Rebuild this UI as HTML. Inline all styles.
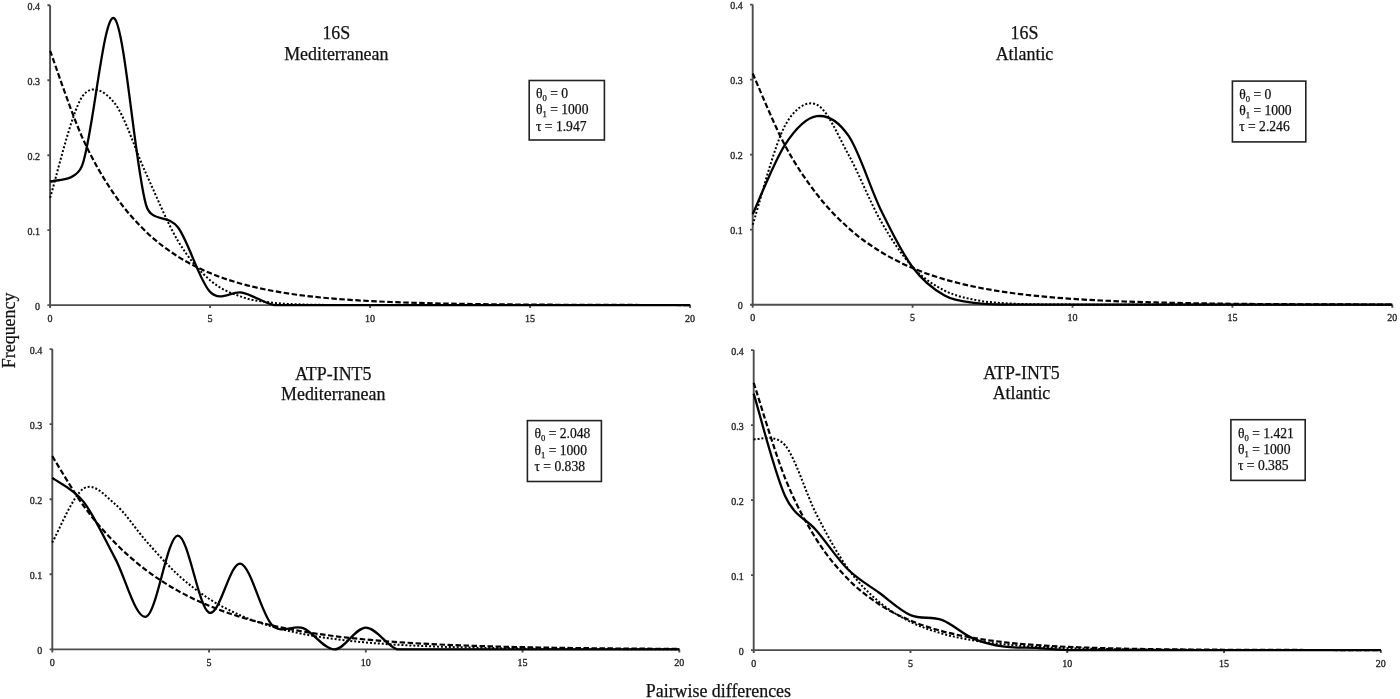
<!DOCTYPE html>
<html><head><meta charset="utf-8"><style>
html,body{margin:0;padding:0;background:#fff;}
body{width:1400px;height:699px;overflow:hidden;}
svg{display:block;will-change:transform;}
text{font-family:"Liberation Serif",serif;fill:#000;}
.yl{font-size:10px;text-anchor:end;fill:#2a2a2a;stroke:#2a2a2a;stroke-width:0.35px;}
.xl{font-size:10px;text-anchor:middle;fill:#2a2a2a;stroke:#2a2a2a;stroke-width:0.35px;}
.tt{font-size:17.9px;text-anchor:middle;fill:#111;stroke:#111;stroke-width:0.25px;}
.at{font-size:17.9px;text-anchor:middle;fill:#111;stroke:#111;stroke-width:0.25px;}
.bt{font-size:13.6px;fill:#111;stroke:#111;stroke-width:0.25px;}
.sub{font-size:8.6px;}
.sol{fill:none;stroke:#000;stroke-width:2.3;stroke-linejoin:round;}
.dash{fill:none;stroke:#000;stroke-width:2.2;stroke-dasharray:5.5 2.5;}
.dot{fill:none;stroke:#000;stroke-width:2.0;stroke-dasharray:2 1.95;}
</style></head><body>
<svg width="1400" height="699" viewBox="0 0 1400 699">
<rect width="1400" height="699" fill="#fff"/>
<path d="M50.10,5.30 V305.10 H690.10" fill="none" stroke="#4d4d4d" stroke-width="1.9"/>
<path d="M47.40,305.10H50.10M47.40,230.15H50.10M47.40,155.20H50.10M47.40,80.25H50.10M47.40,5.30H50.10M50.10,305.10V308.10M210.10,305.10V308.10M370.10,305.10V308.10M530.10,305.10V308.10M690.10,305.10V308.10" fill="none" stroke="#4d4d4d" stroke-width="1.9"/>
<text x="40.10" y="309.70" class="yl">0</text>
<text x="40.10" y="234.75" class="yl">0.1</text>
<text x="40.10" y="159.80" class="yl">0.2</text>
<text x="40.10" y="84.85" class="yl">0.3</text>
<text x="40.10" y="9.90" class="yl">0.4</text>
<text x="50.10" y="321.60" class="xl">0</text>
<text x="210.10" y="321.60" class="xl">5</text>
<text x="370.10" y="321.60" class="xl">10</text>
<text x="530.10" y="321.60" class="xl">15</text>
<text x="690.10" y="321.60" class="xl">20</text>
<path d="M50.10,197.71 C55.43,180.90 71.43,112.69 82.10,96.83 C91.17,83.34 103.70,90.05 114.10,102.54 C124.77,115.35 135.43,150.59 146.10,173.69 C156.77,196.79 167.43,223.40 178.10,241.15 C188.77,258.90 199.43,270.89 210.10,280.20 C220.77,289.51 231.43,293.25 242.10,297.02 C252.77,300.80 263.43,301.60 274.10,302.85 C284.77,304.11 295.43,304.20 306.10,304.55 C316.77,304.91 327.43,304.89 338.10,304.98 C348.77,305.07 359.43,305.06 370.10,305.08 C380.77,305.10 391.43,305.09 402.10,305.10 C412.77,305.10 423.43,305.10 434.10,305.10 C444.77,305.10 455.43,305.10 466.10,305.10 C476.77,305.10 487.43,305.10 498.10,305.10 C508.77,305.10 519.43,305.10 530.10,305.10 C540.77,305.10 551.43,305.10 562.10,305.10 C572.77,305.10 583.43,305.10 594.10,305.10 C604.77,305.10 615.43,305.10 626.10,305.10 C636.77,305.10 647.43,305.10 658.10,305.10 C668.77,305.10 684.77,305.10 690.10,305.10" class="dot"/>
<path d="M50.10,50.77 C55.43,65.16 71.43,113.19 82.10,137.07 C92.77,160.96 103.43,178.31 114.10,194.09 C124.77,209.87 135.43,221.33 146.10,231.76 C156.77,242.18 167.43,249.76 178.10,256.65 C188.77,263.53 199.43,268.54 210.10,273.09 C220.77,277.64 231.43,280.94 242.10,283.95 C252.77,286.96 263.43,289.14 274.10,291.13 C284.77,293.11 295.43,294.56 306.10,295.87 C316.77,297.18 327.43,298.13 338.10,299.00 C348.77,299.87 359.43,300.50 370.10,301.07 C380.77,301.64 391.43,302.06 402.10,302.44 C412.77,302.82 423.43,303.09 434.10,303.34 C444.77,303.59 455.43,303.77 466.10,303.94 C476.77,304.10 487.43,304.22 498.10,304.33 C508.77,304.44 519.43,304.52 530.10,304.59 C540.77,304.66 551.43,304.72 562.10,304.76 C572.77,304.81 583.43,304.85 594.10,304.88 C604.77,304.91 615.43,304.93 626.10,304.95 C636.77,304.97 647.43,304.99 658.10,305.00 C668.77,305.02 684.77,305.03 690.10,305.04" class="dash"/>
<path d="M50.10,181.88 C55.43,179.18 75.57,182.39 82.10,165.69 C92.77,138.41 103.43,11.63 114.10,18.19 C124.77,24.75 135.43,170.15 146.10,205.04 C151.82,223.74 167.43,213.05 178.10,227.53 C188.77,242.00 199.43,281.07 210.10,291.91 C220.77,302.75 231.43,290.38 242.10,292.58 C252.77,294.78 263.43,303.01 274.10,305.10 C284.77,305.10 295.43,305.10 306.10,305.10 C316.77,305.10 327.43,305.10 338.10,305.10 C348.77,305.10 359.43,305.10 370.10,305.10 C380.77,305.10 391.43,305.10 402.10,305.10 C412.77,305.10 423.43,305.10 434.10,305.10 C444.77,305.10 455.43,305.10 466.10,305.10 C476.77,305.10 487.43,305.10 498.10,305.10 C508.77,305.10 519.43,305.10 530.10,305.10 C540.77,305.10 551.43,305.10 562.10,305.10 C572.77,305.10 583.43,305.10 594.10,305.10 C604.77,305.10 615.43,305.10 626.10,305.10 C636.77,305.10 647.43,305.10 658.10,305.10 C668.77,305.10 684.77,305.10 690.10,305.10" class="sol"/>
<text x="336.30" y="38.80" class="tt">16S</text>
<text x="336.30" y="59.70" class="tt">Mediterranean</text>
<rect x="529.20" y="80.50" width="75.20" height="59.50" fill="#fff" stroke="#222" stroke-width="1.6"/>
<text x="536.00" y="98.00" class="bt">&#952;<tspan class="sub" dy="3.0">0</tspan><tspan dy="-3.0"> = 0</tspan></text>
<text x="536.00" y="114.30" class="bt">&#952;<tspan class="sub" dy="3.0">1</tspan><tspan dy="-3.0"> = 1000</tspan></text>
<text x="536.00" y="130.60" class="bt">&#964; = 1.947</text>
<path d="M752.70,4.58 V304.70 H1392.30" fill="none" stroke="#4d4d4d" stroke-width="1.9"/>
<path d="M750.00,304.70H752.70M750.00,229.67H752.70M750.00,154.64H752.70M750.00,79.61H752.70M750.00,4.58H752.70M752.70,304.70V307.70M912.60,304.70V307.70M1072.50,304.70V307.70M1232.40,304.70V307.70M1392.30,304.70V307.70" fill="none" stroke="#4d4d4d" stroke-width="1.9"/>
<text x="742.70" y="309.30" class="yl">0</text>
<text x="742.70" y="234.27" class="yl">0.1</text>
<text x="742.70" y="159.24" class="yl">0.2</text>
<text x="742.70" y="84.21" class="yl">0.3</text>
<text x="742.70" y="9.18" class="yl">0.4</text>
<text x="752.70" y="321.20" class="xl">0</text>
<text x="912.60" y="321.20" class="xl">5</text>
<text x="1072.50" y="321.20" class="xl">10</text>
<text x="1232.40" y="321.20" class="xl">15</text>
<text x="1392.30" y="321.20" class="xl">20</text>
<path d="M752.70,224.81 C758.03,208.39 774.02,146.32 784.68,126.28 C793.75,109.22 806.00,99.81 816.66,104.60 C827.32,109.38 837.98,135.62 848.64,154.96 C859.30,174.31 869.96,201.98 880.62,220.65 C891.28,239.31 901.94,255.29 912.60,266.95 C923.26,278.60 933.92,285.03 944.58,290.57 C955.24,296.11 965.90,298.02 976.56,300.17 C987.22,302.31 997.88,302.72 1008.54,303.43 C1019.20,304.13 1029.86,304.18 1040.52,304.38 C1051.18,304.58 1061.84,304.58 1072.50,304.63 C1083.16,304.68 1093.82,304.67 1104.48,304.69 C1115.14,304.70 1125.80,304.69 1136.46,304.70 C1147.12,304.70 1157.78,304.70 1168.44,304.70 C1179.10,304.70 1189.76,304.70 1200.42,304.70 C1211.08,304.70 1221.74,304.70 1232.40,304.70 C1243.06,304.70 1253.72,304.70 1264.38,304.70 C1275.04,304.70 1285.70,304.70 1296.36,304.70 C1307.02,304.70 1317.68,304.70 1328.34,304.70 C1339.00,304.70 1349.66,304.70 1360.32,304.70 C1370.98,304.70 1386.97,304.70 1392.30,304.70" class="dot"/>
<path d="M752.70,73.55 C758.03,85.42 774.02,124.68 784.68,144.76 C795.34,164.84 806.00,180.14 816.66,194.04 C827.32,207.93 837.98,218.51 848.64,228.13 C859.30,237.74 869.96,245.07 880.62,251.72 C891.28,258.37 901.94,263.44 912.60,268.04 C923.26,272.64 933.92,276.15 944.58,279.33 C955.24,282.52 965.90,284.94 976.56,287.15 C987.22,289.35 997.88,291.03 1008.54,292.56 C1019.20,294.08 1029.86,295.24 1040.52,296.30 C1051.18,297.35 1061.84,298.16 1072.50,298.89 C1083.16,299.62 1093.82,300.17 1104.48,300.68 C1115.14,301.18 1125.80,301.57 1136.46,301.92 C1147.12,302.27 1157.78,302.53 1168.44,302.77 C1179.10,303.02 1189.76,303.20 1200.42,303.37 C1211.08,303.53 1221.74,303.66 1232.40,303.78 C1243.06,303.89 1253.72,303.98 1264.38,304.06 C1275.04,304.14 1285.70,304.20 1296.36,304.26 C1307.02,304.31 1317.68,304.36 1328.34,304.39 C1339.00,304.43 1349.66,304.46 1360.32,304.49 C1370.98,304.52 1386.97,304.54 1392.30,304.55" class="dash"/>
<path d="M752.70,214.29 C758.03,202.78 774.02,161.61 784.68,145.26 C795.34,128.92 806.00,117.78 816.66,116.22 C827.32,114.67 838.01,120.47 848.64,135.96 C859.30,151.49 869.96,187.54 880.62,209.41 C891.28,231.28 901.94,252.84 912.60,267.19 C923.26,281.53 933.92,289.47 944.58,295.47 C955.24,301.47 965.90,301.66 976.56,303.20 C987.22,304.70 997.88,304.45 1008.54,304.70 C1019.20,304.70 1029.86,304.70 1040.52,304.70 C1051.18,304.70 1061.84,304.70 1072.50,304.70 C1083.16,304.70 1093.82,304.70 1104.48,304.70 C1115.14,304.70 1125.80,304.70 1136.46,304.70 C1147.12,304.70 1157.78,304.70 1168.44,304.70 C1179.10,304.70 1189.76,304.70 1200.42,304.70 C1211.08,304.70 1221.74,304.70 1232.40,304.70 C1243.06,304.70 1253.72,304.70 1264.38,304.70 C1275.04,304.70 1285.70,304.70 1296.36,304.70 C1307.02,304.70 1317.68,304.70 1328.34,304.70 C1339.00,304.70 1349.66,304.70 1360.32,304.70 C1370.98,304.70 1386.97,304.70 1392.30,304.70" class="sol"/>
<text x="1024.50" y="38.80" class="tt">16S</text>
<text x="1024.50" y="59.70" class="tt">Atlantic</text>
<rect x="1232.40" y="81.10" width="73.40" height="60.80" fill="#fff" stroke="#222" stroke-width="1.6"/>
<text x="1239.20" y="98.60" class="bt">&#952;<tspan class="sub" dy="3.0">0</tspan><tspan dy="-3.0"> = 0</tspan></text>
<text x="1239.20" y="114.90" class="bt">&#952;<tspan class="sub" dy="3.0">1</tspan><tspan dy="-3.0"> = 1000</tspan></text>
<text x="1239.20" y="131.20" class="bt">&#964; = 2.246</text>
<path d="M52.30,349.10 V649.40 H679.30" fill="none" stroke="#4d4d4d" stroke-width="1.9"/>
<path d="M49.60,649.40H52.30M49.60,574.32H52.30M49.60,499.25H52.30M49.60,424.17H52.30M49.60,349.10H52.30M52.30,649.40V652.40M209.05,649.40V652.40M365.80,649.40V652.40M522.55,649.40V652.40M679.30,649.40V652.40" fill="none" stroke="#4d4d4d" stroke-width="1.9"/>
<text x="42.30" y="654.00" class="yl">0</text>
<text x="42.30" y="578.92" class="yl">0.1</text>
<text x="42.30" y="503.85" class="yl">0.2</text>
<text x="42.30" y="428.77" class="yl">0.3</text>
<text x="42.30" y="353.70" class="yl">0.4</text>
<text x="52.30" y="665.90" class="xl">0</text>
<text x="209.05" y="665.90" class="xl">5</text>
<text x="365.80" y="665.90" class="xl">10</text>
<text x="522.55" y="665.90" class="xl">15</text>
<text x="679.30" y="665.90" class="xl">20</text>
<path d="M52.30,542.52 C57.52,533.51 73.20,494.93 83.65,488.50 C94.10,482.08 104.55,495.18 115.00,503.98 C125.45,512.77 135.90,529.50 146.35,541.26 C156.80,553.03 167.25,564.98 177.70,574.56 C188.15,584.14 198.60,591.95 209.05,598.75 C219.50,605.54 229.95,610.69 240.40,615.31 C250.85,619.94 261.30,623.38 271.75,626.49 C282.20,629.61 292.65,631.91 303.10,634.01 C313.55,636.10 324.00,637.65 334.45,639.06 C344.90,640.46 355.35,641.50 365.80,642.45 C376.25,643.40 386.70,644.09 397.15,644.73 C407.60,645.37 418.05,645.84 428.50,646.26 C438.95,646.69 449.40,647.00 459.85,647.29 C470.30,647.58 480.75,647.79 491.20,647.98 C501.65,648.18 512.10,648.32 522.55,648.45 C533.00,648.58 543.45,648.67 553.90,648.76 C564.35,648.85 574.80,648.91 585.25,648.97 C595.70,649.03 606.15,649.07 616.60,649.11 C627.05,649.15 637.50,649.18 647.95,649.21 C658.40,649.23 674.07,649.26 679.30,649.27" class="dot"/>
<path d="M52.30,456.21 C57.52,464.49 73.20,491.48 83.65,505.92 C94.10,520.36 104.55,532.12 115.00,542.84 C125.45,553.57 135.90,562.30 146.35,570.26 C156.80,578.23 167.25,584.71 177.70,590.63 C188.15,596.54 198.60,601.36 209.05,605.75 C219.50,610.15 229.95,613.72 240.40,616.98 C250.85,620.25 261.30,622.90 271.75,625.33 C282.20,627.75 292.65,629.72 303.10,631.52 C313.55,633.32 324.00,634.79 334.45,636.12 C344.90,637.46 355.35,638.55 365.80,639.54 C376.25,640.53 386.70,641.34 397.15,642.08 C407.60,642.81 418.05,643.41 428.50,643.96 C438.95,644.51 449.40,644.95 459.85,645.36 C470.30,645.77 480.75,646.10 491.20,646.40 C501.65,646.70 512.10,646.95 522.55,647.17 C533.00,647.40 543.45,647.58 553.90,647.75 C564.35,647.91 574.80,648.05 585.25,648.17 C595.70,648.29 606.15,648.40 616.60,648.49 C627.05,648.58 637.50,648.65 647.95,648.72 C658.40,648.79 674.07,648.87 679.30,648.90" class="dash"/>
<path d="M52.30,477.93 C57.52,481.92 73.20,488.51 83.65,501.88 C94.10,515.24 104.55,538.98 115.00,558.11 C125.45,577.24 135.90,620.42 146.35,616.67 C156.80,612.91 167.25,536.26 177.70,535.59 C188.15,534.91 198.60,607.95 209.05,612.61 C219.50,617.28 229.95,561.57 240.40,563.59 C250.85,565.60 261.30,613.95 271.75,624.70 C282.20,635.45 292.65,623.96 303.10,628.08 C313.55,632.20 324.00,649.40 334.45,649.40 C344.90,649.32 355.35,627.63 365.80,627.63 C376.25,627.63 386.70,645.77 397.15,649.40 C407.60,649.40 418.05,649.40 428.50,649.40 C438.95,649.40 449.40,649.40 459.85,649.40 C470.30,649.40 480.75,649.40 491.20,649.40 C501.65,649.40 512.10,649.40 522.55,649.40 C533.00,649.40 543.45,649.40 553.90,649.40 C564.35,649.40 574.80,649.40 585.25,649.40 C595.70,649.40 606.15,649.40 616.60,649.40 C627.05,649.40 637.50,649.40 647.95,649.40 C658.40,649.40 674.07,649.40 679.30,649.40" class="sol"/>
<text x="333.20" y="379.60" class="tt">ATP-INT5</text>
<text x="333.20" y="400.40" class="tt">Mediterranean</text>
<rect x="527.40" y="420.60" width="74.00" height="60.90" fill="#fff" stroke="#222" stroke-width="1.6"/>
<text x="534.50" y="438.40" class="bt">&#952;<tspan class="sub" dy="3.0">0</tspan><tspan dy="-3.0"> = 2.048</tspan></text>
<text x="534.50" y="454.70" class="bt">&#952;<tspan class="sub" dy="3.0">1</tspan><tspan dy="-3.0"> = 1000</tspan></text>
<text x="534.50" y="471.00" class="bt">&#964; = 0.838</text>
<path d="M753.70,350.10 V650.10 H1380.80" fill="none" stroke="#4d4d4d" stroke-width="1.9"/>
<path d="M751.00,650.10H753.70M751.00,575.10H753.70M751.00,500.10H753.70M751.00,425.10H753.70M751.00,350.10H753.70M753.70,650.10V653.10M910.48,650.10V653.10M1067.25,650.10V653.10M1224.03,650.10V653.10M1380.80,650.10V653.10" fill="none" stroke="#4d4d4d" stroke-width="1.9"/>
<text x="743.70" y="654.70" class="yl">0</text>
<text x="743.70" y="579.70" class="yl">0.1</text>
<text x="743.70" y="504.70" class="yl">0.2</text>
<text x="743.70" y="429.70" class="yl">0.3</text>
<text x="743.70" y="354.70" class="yl">0.4</text>
<text x="753.70" y="666.60" class="xl">0</text>
<text x="910.48" y="666.60" class="xl">5</text>
<text x="1067.25" y="666.60" class="xl">10</text>
<text x="1224.03" y="666.60" class="xl">15</text>
<text x="1380.80" y="666.60" class="xl">20</text>
<path d="M753.70,439.15 C758.93,440.16 774.82,432.99 785.06,445.25 C795.51,457.77 805.96,493.75 816.41,514.27 C826.86,534.79 837.31,553.76 847.77,568.37 C858.22,582.98 868.67,593.03 879.12,601.94 C889.57,610.84 900.02,616.56 910.48,621.82 C920.93,627.08 931.38,630.41 941.83,633.50 C952.28,636.59 962.73,638.54 973.19,640.36 C983.64,642.17 994.09,643.32 1004.54,644.38 C1014.99,645.45 1025.44,646.12 1035.89,646.74 C1046.35,647.37 1056.80,647.76 1067.25,648.13 C1077.70,648.50 1088.15,648.73 1098.61,648.94 C1109.06,649.16 1119.51,649.29 1129.96,649.42 C1140.41,649.55 1150.86,649.63 1161.32,649.70 C1171.77,649.78 1182.22,649.82 1192.67,649.87 C1203.12,649.91 1213.57,649.94 1224.03,649.96 C1234.48,649.99 1244.93,650.00 1255.38,650.02 C1265.83,650.03 1276.28,650.04 1286.74,650.05 C1297.19,650.06 1307.64,650.07 1318.09,650.07 C1328.54,650.08 1338.99,650.08 1349.45,650.08 C1359.90,650.09 1375.57,650.09 1380.80,650.09" class="dot"/>
<path d="M753.70,382.82 C758.93,398.69 774.60,451.98 785.06,478.07 C795.51,504.16 805.96,522.58 816.41,539.38 C826.86,556.17 837.31,568.03 847.77,578.84 C858.22,589.65 868.67,597.28 879.12,604.23 C889.57,611.19 900.02,616.10 910.48,620.58 C920.93,625.06 931.38,628.22 941.83,631.10 C952.28,633.98 962.73,636.02 973.19,637.87 C983.64,639.73 994.09,641.04 1004.54,642.23 C1014.99,643.42 1025.44,644.27 1035.89,645.03 C1046.35,645.80 1056.80,646.35 1067.25,646.84 C1077.70,647.33 1088.15,647.68 1098.61,648.00 C1109.06,648.32 1119.51,648.54 1129.96,648.75 C1140.41,648.95 1150.86,649.10 1161.32,649.23 C1171.77,649.36 1182.22,649.46 1192.67,649.54 C1203.12,649.63 1213.57,649.69 1224.03,649.74 C1234.48,649.79 1244.93,649.83 1255.38,649.87 C1265.83,649.90 1276.28,649.93 1286.74,649.95 C1297.19,649.97 1307.64,649.99 1318.09,650.00 C1328.54,650.02 1338.99,650.03 1349.45,650.04 C1359.90,650.05 1375.57,650.06 1380.80,650.06" class="dash"/>
<path d="M753.70,393.60 C758.93,410.65 774.60,473.09 785.06,495.90 C794.78,517.12 805.96,518.25 816.41,530.48 C826.86,542.70 837.31,558.88 847.77,569.25 C858.22,579.62 868.67,585.09 879.12,592.73 C889.57,600.36 900.02,610.54 910.48,615.08 C920.93,619.61 931.38,616.03 941.83,619.95 C952.28,623.88 962.73,634.16 973.19,638.62 C983.64,643.09 994.09,645.19 1004.54,646.73 C1014.99,648.26 1025.44,647.29 1035.89,647.85 C1046.35,648.41 1056.80,649.73 1067.25,650.10 C1077.70,650.10 1088.15,650.10 1098.61,650.10 C1109.06,650.10 1119.51,650.10 1129.96,650.10 C1140.41,650.10 1150.86,650.10 1161.32,650.10 C1171.77,650.10 1182.22,650.10 1192.67,650.10 C1203.12,650.10 1213.57,650.10 1224.03,650.10 C1234.48,650.10 1244.93,650.10 1255.38,650.10 C1265.83,650.10 1276.28,650.10 1286.74,650.10 C1297.19,650.10 1307.64,650.10 1318.09,650.10 C1328.54,650.10 1338.99,650.10 1349.45,650.10 C1359.90,650.10 1375.57,650.10 1380.80,650.10" class="sol"/>
<text x="1021.50" y="378.70" class="tt">ATP-INT5</text>
<text x="1021.50" y="399.30" class="tt">Atlantic</text>
<rect x="1230.90" y="419.70" width="74.30" height="60.70" fill="#fff" stroke="#222" stroke-width="1.6"/>
<text x="1238.00" y="437.50" class="bt">&#952;<tspan class="sub" dy="3.0">0</tspan><tspan dy="-3.0"> = 1.421</tspan></text>
<text x="1238.00" y="453.80" class="bt">&#952;<tspan class="sub" dy="3.0">1</tspan><tspan dy="-3.0"> = 1000</tspan></text>
<text x="1238.00" y="470.10" class="bt">&#964; = 0.385</text>
<text x="718.4" y="697" class="at">Pairwise differences</text>
<text transform="translate(15.2,330.4) rotate(-90)" x="0" y="0" class="at">Frequency</text>
</svg>
</body></html>
